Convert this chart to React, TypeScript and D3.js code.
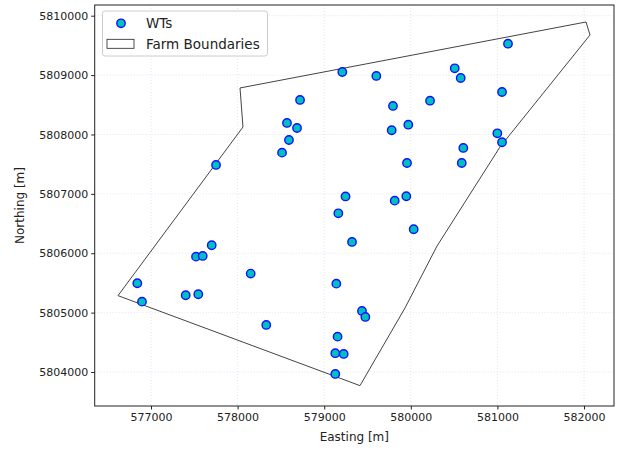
import { useEffect, useRef } from "react";
import * as d3 from "d3";

// Wind turbine positions [m]
const wtEasting = [
  581122, 579209, 579602, 580507, 580576, 581053, 578721, 579794, 580222, 578686,
  579779, 579971, 580999, 581053, 580606, 579956, 580588, 578570, 578593, 578513,
  577751, 579246, 579814, 579948, 579163, 580033, 579321, 577701, 577520, 577597,
  578151, 576842, 579140, 577401, 577546, 576896, 579436, 579475, 578331, 579154,
  579128, 579225, 579128,
];
const wtNorthing = [
  5809529, 5809052, 5808985, 5809114, 5808951, 5808715, 5808581, 5808480, 5808569, 5808109,
  5808071, 5808165, 5808020, 5807869, 5807773, 5807520, 5807520, 5808194, 5807907, 5807694,
  5807487, 5806956, 5806886, 5806960, 5806673, 5806404, 5806190, 5806135, 5805943, 5805955,
  5805657, 5805495, 5805488, 5805293, 5805310, 5805185, 5805029, 5804928, 5804793, 5804596,
  5804317, 5804305, 5803968,
];

// Farm boundary polygon
const boundaryEasting = [576619, 579413, 579933, 580303, 581030, 582069, 582023, 578028, 578062];
const boundaryNorthing = [5805286, 5803771, 5805079, 5806123, 5807790, 5809675, 5809894, 5808783, 5808126];

const xTicks = [577000, 578000, 579000, 580000, 581000, 582000];
const yTicks = [5804000, 5805000, 5806000, 5807000, 5808000, 5809000, 5810000];

const W = 632, H = 450;
const FONT = "DejaVu Sans, sans-serif";

export default function App() {
  const ref = useRef<SVGSVGElement>(null);

  useEffect(() => {
    if (!ref.current) return;
    const svg = d3.select(ref.current);
    svg.selectAll("*").remove();

    const L = 94.7, R = 614, T = 5, B = 406;
    const x = d3.scaleLinear().domain([576350, 582346]).range([L, R]);
    const y = d3.scaleLinear().domain([5803428, 5810180]).range([B, T]);

    svg.append("rect").attr("width", W).attr("height", H).attr("fill", "white");

    // grid
    const grid = svg.append("g").attr("stroke", "#d9dcf2").attr("stroke-width", 0.8)
      .attr("stroke-dasharray", "1,2");
    xTicks.forEach(t => grid.append("line").attr("x1", x(t)).attr("x2", x(t)).attr("y1", T).attr("y2", B));
    yTicks.forEach(t => grid.append("line").attr("x1", L).attr("x2", R).attr("y1", y(t)).attr("y2", y(t)));

    // boundary
    const pts = boundaryEasting.map((e, i) => [x(e), y(boundaryNorthing[i])] as [number, number]);
    svg.append("path")
      .attr("d", d3.line()(pts.concat([pts[0]])))
      .attr("fill", "none").attr("stroke", "#444").attr("stroke-width", 1);

    // turbines
    svg.append("g").selectAll("circle")
      .data(wtEasting.map((e, i) => [e, wtNorthing[i]]))
      .join("circle")
      .attr("cx", d => x(d[0])).attr("cy", d => y(d[1])).attr("r", 4.2)
      .attr("fill", "#00bfbf").attr("stroke", "#1010ff").attr("stroke-width", 1.4);

    // axes
    const gx = svg.append("g").attr("transform", `translate(0,${B})`)
      .call(d3.axisBottom(x).tickValues(xTicks).tickFormat(d3.format("d")).tickSize(3.5).tickPadding(4));
    const gy = svg.append("g").attr("transform", `translate(${L},0)`)
      .call(d3.axisLeft(y).tickValues(yTicks).tickFormat(d3.format("d")).tickSize(3.5).tickPadding(3));
    [gx, gy].forEach(g => {
      g.select(".domain").remove();
      g.selectAll("line").attr("stroke", "#222");
      g.selectAll("text").attr("font-family", FONT).attr("font-size", 11).attr("fill", "#222");
    });

    svg.append("rect").attr("x", L).attr("y", T).attr("width", R - L).attr("height", B - T)
      .attr("fill", "none").attr("stroke", "#222").attr("stroke-width", 1);

    svg.append("text").attr("x", (L + R) / 2).attr("y", 441).attr("text-anchor", "middle")
      .attr("font-family", FONT).attr("font-size", 12).attr("fill", "#222").text("Easting [m]");
    svg.append("text").attr("transform", `translate(24,${(T + B) / 2})rotate(-90)`)
      .attr("text-anchor", "middle").attr("font-family", FONT).attr("font-size", 12)
      .attr("fill", "#222").text("Northing [m]");

    // legend
    const lg = svg.append("g");
    lg.append("rect").attr("x", 102.5).attr("y", 11).attr("width", 165).attr("height", 45).attr("rx", 2.5)
      .attr("fill", "white").attr("fill-opacity", 0.85).attr("stroke", "#cccccc");
    lg.append("circle").attr("cx", 121).attr("cy", 23.3).attr("r", 4.2)
      .attr("fill", "#00bfbf").attr("stroke", "#1010ff").attr("stroke-width", 1.4);
    lg.append("text").attr("x", 146).attr("y", 28).attr("font-family", FONT).attr("font-size", 13.5)
      .attr("fill", "#222").text("WTs");
    lg.append("rect").attr("x", 107).attr("y", 39.3).attr("width", 27).attr("height", 9)
      .attr("fill", "white").attr("stroke", "#222").attr("stroke-width", 0.8);
    lg.append("text").attr("x", 146).attr("y", 48.5).attr("font-family", FONT).attr("font-size", 13.5)
      .attr("fill", "#222").text("Farm Boundaries");
  }, []);

  return (
    <div style={{ position: "fixed", left: 0, top: 0 }}>
      <svg ref={ref} width={W} height={H} />
    </div>
  );
}
